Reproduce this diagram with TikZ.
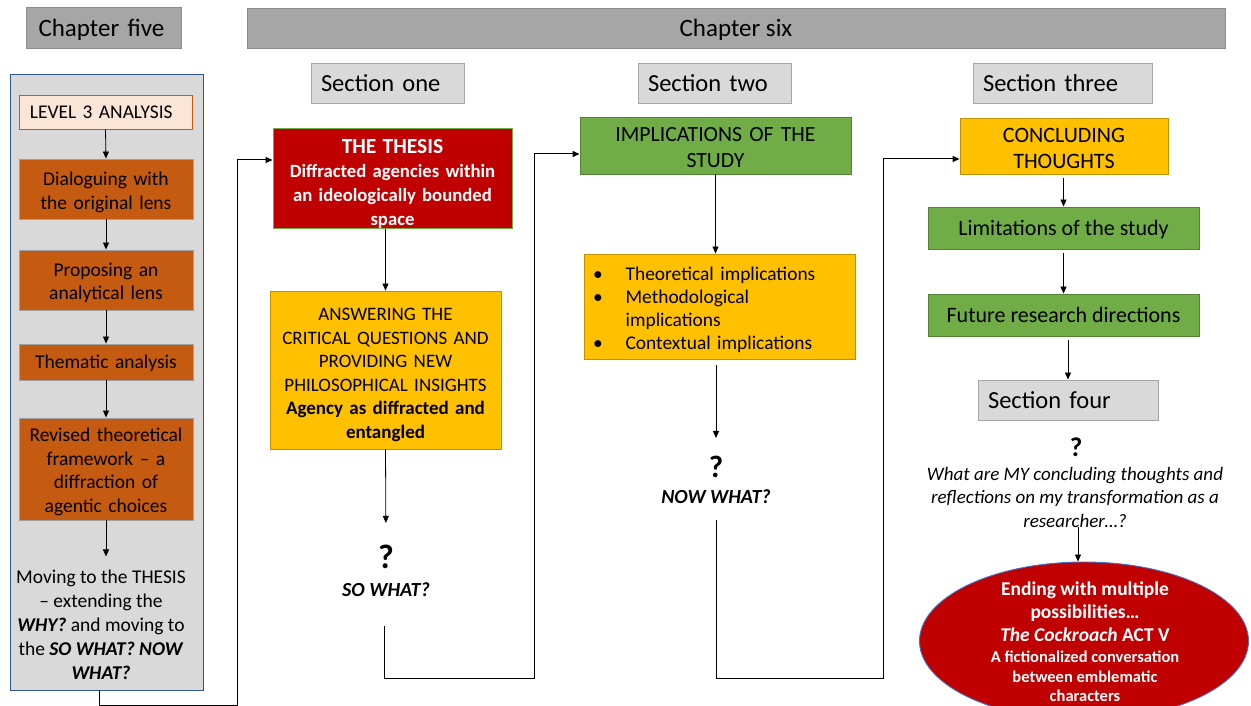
\documentclass[tikz,border=0pt]{standalone}
\usepackage{fontspec}
\setmainfont{Carlito}
\usetikzlibrary{arrows.meta,shapes.geometric}
\definecolor{chap}{HTML}{A6A6A6}
\definecolor{chapb}{HTML}{8C8C8C}
\definecolor{sec}{HTML}{D9D9D9}
\definecolor{secb}{HTML}{A6A6A6}
\definecolor{panelb}{HTML}{2F5597}
\definecolor{peach}{HTML}{FBE5D6}
\definecolor{rust}{HTML}{C55A11}
\definecolor{rustb}{HTML}{A0A0A0}
\definecolor{darkred}{HTML}{C00000}
\definecolor{gold}{HTML}{FFC000}
\definecolor{goldb}{HTML}{BF9000}
\definecolor{leaf}{HTML}{70AD47}
\definecolor{leafb}{HTML}{548235}
\definecolor{blueb}{HTML}{4472C4}
\newcommand\tup[1]{\rule{0pt}{#1}}
\begin{document}
\begin{tikzpicture}[x=1pt,y=-1pt,
  box/.style={draw, line width=0.9pt, align=center, inner sep=0pt, anchor=center},
  chapbox/.style={box, fill=chap, draw=chapb, font=\fontsize{25}{28}\selectfont, text depth=-7pt},
  secbox/.style={box, fill=sec, draw=secb, font=\fontsize{24.5}{28}\selectfont, align=left, inner xsep=10pt, text depth=-6pt},
  rustbox/.style={box, fill=rust, draw=rustb, font=\fontsize{19.5}{23.5}\selectfont, minimum width=174, text width=168},
  goldbox/.style={box, fill=gold, draw=goldb},
  leafbox/.style={box, fill=leaf, draw=leafb},
  txt/.style={align=center, inner sep=0pt},
  qmark/.style={inner sep=0pt, font=\bfseries\fontsize{34}{36}\selectfont},
  qlbl/.style={inner sep=0pt, font=\bfseries\itshape\fontsize{20}{24}\selectfont},
  arr/.style={-{Triangle[length=7pt,width=6pt]}, line width=0.8pt},
  flow/.style={-{Triangle[length=7pt,width=6pt]}, line width=1pt}]
\useasboundingbox (0,0) rectangle (1251,706);
\fill[white] (0,0) rectangle (1251,706);
\clip (0,0) rectangle (1251,706);

% headers
\node[chapbox, minimum width=155, minimum height=41, align=left, inner xsep=12pt, text width=131] (ch5) at (104,28) {Chapter five};
\node[chapbox, minimum width=978, minimum height=40] (ch6) at (736,28) {Chapter six};
\node[secbox, minimum height=40, text width=133] (s1) at (387.5,83) {Section one};
\node[secbox, minimum height=40, text width=133] (s2) at (714.5,83) {Section two};
\node[secbox, minimum height=40, text width=159] (s3) at (1062.5,83) {Section three};

% left panel
\node[box, fill=sec, draw=panelb, minimum width=193, minimum height=616] (panel) at (106.5,382) {};
\node[box, fill=peach, draw=rust, minimum width=173, minimum height=34, align=left, inner xsep=11pt, text width=151, text depth=-8pt, font=\fontsize{19.4}{22}\selectfont] (l3) at (105.5,112) {LEVEL 3 ANALYSIS};
\node[rustbox, minimum height=60] (dia) at (106,189) {\tup{1.05em}Dialoguing with\\the original lens};
\node[rustbox, minimum height=60] (pro) at (106,280) {\tup{1em}Proposing an\\analytical lens};
\node[rustbox, minimum height=36, text depth=-1.5pt] (the) at (106,362) {Thematic analysis};
\node[rustbox, minimum height=102] (rev) at (106,469) {\tup{0.98em}Revised theoretical\\framework – a\\diffraction of\\agentic choices};
\node[txt, font=\fontsize{19.5}{24}\selectfont] (mov) at (101,625) {Moving to the THESIS\\– extending the\\\textbf{\textit{WHY?}} and moving to\\the \textbf{\textit{SO WHAT? NOW}}\\\textbf{\textit{WHAT?}}};
\draw[arr] (l3.south) -- (dia.north);
\draw[arr] (dia.south) -- (pro.north);
\draw[arr] (pro.south) -- (the.north);
\draw[arr] (the.south) -- (rev.north);
\draw[arr] (rev.south) -- ++(0,36) coordinate (revend);

% section one
\node[box, fill=darkred, draw=leaf, text=white, font=\bfseries\fontsize{18.7}{24}\selectfont, minimum width=239, minimum height=97, text width=236] (thesis) at (392.5,178.5) {{\fontsize{21.5}{24}\selectfont\tup{1.2em}THE THESIS}\\Diffracted agencies within\\an ideologically bounded\\space};
\node[goldbox, font=\fontsize{19}{23.6}\selectfont, minimum width=231, minimum height=158, text width=227] (ans) at (385.5,370) {\tup{1.17em}ANSWERING THE\\CRITICAL QUESTIONS AND\\PROVIDING NEW\\PHILOSOPHICAL INSIGHTS\\\textbf{Agency as diffracted and}\\\textbf{entangled}};
\node[qmark] (qa1) at (386,557) {?};
\node[qlbl] (qb1) at (386,590) {SO WHAT?};
\draw[arr] (thesis.south -| ans.north) -- (ans.north);
\draw[arr, shorten >=22pt] (ans.south) -- (qa1.north);

% section two
\node[leafbox, font=\fontsize{21.7}{26}\selectfont, minimum width=271, minimum height=57, text width=266] (impl) at (715.5,145.5) {\tup{0.83em}IMPLICATIONS OF THE\\STUDY};
\node[goldbox, minimum width=271, minimum height=105, align=left, text width=253, inner xsep=9pt, font=\fontsize{19.4}{23.3}\selectfont] (bul) at (719.5,306.5) {\begin{tabular}[t]{@{}l@{\hspace{23pt}}l@{}}\tup{24pt}•&Theoretical implications\\•&Methodological\\&implications\\•&Contextual implications\end{tabular}};
\node[qmark, font=\bfseries\fontsize{31}{33}\selectfont] (qa2) at (716,467) {?};
\node[qlbl] (qb2) at (716,497) {NOW WHAT?};
\draw[arr] (impl.south) -- (bul.north -| impl.south);
\draw[arr, shorten <=6pt, shorten >=18pt] (bul.south -| qa2.north) -- (qa2.north);

% section three
\node[goldbox, font=\fontsize{22}{26}\selectfont, minimum width=208, minimum height=56, text width=204] (conc) at (1064,146) {\tup{0.83em}CONCLUDING\\THOUGHTS};
\node[leafbox, font=\fontsize{22}{24}\selectfont, minimum width=271, minimum height=42, text depth=-1pt] (lim) at (1063.5,228) {Limitations of the study};
\node[leafbox, font=\fontsize{22}{24}\selectfont, minimum width=271, minimum height=42, text depth=-4pt] (fut) at (1063.5,315) {Future research directions};
\node[secbox, minimum height=40, text width=160, text depth=-3pt] (s4) at (1068,400) {Section four};
\node[qmark, font=\bfseries\fontsize{27}{29}\selectfont] (qa3) at (1076,447) {?};
\node[txt, font=\itshape\fontsize{19}{23.5}\selectfont] (qt3) at (1075,497) {What are MY concluding thoughts and\\reflections on my transformation as a\\researcher…?};
\node[ellipse, draw=blueb, fill=darkred, line width=0.9pt, minimum width=329, minimum height=158, inner sep=0pt] (ell) at (1084,641) {};
\node[txt, text=white, font=\bfseries\fontsize{19.5}{23}\selectfont] (ellt) at (1085,642) {Ending with multiple\\possibilities…\\\textit{The Cockroach} ACT V\\[-2pt]{\fontsize{16.5}{19}\selectfont A fictionalized conversation}\\[-3pt]{\fontsize{16.5}{19}\selectfont between emblematic}\\[-4pt]{\fontsize{16.5}{19}\selectfont characters}};
\draw[arr, shorten <=4pt] (conc.south -| lim.north) -- (lim.north);
\draw[arr, shorten <=4pt] (lim.south) -- (fut.north);
\draw[arr, shorten <=4pt] (fut.south -| s4.north) -- (s4.north);
\draw[arr] (qt3.south -| 1078,0) -- (ell.north -| 1078,0);

% elbow connectors
\coordinate (k1s) at (99,690);
\coordinate (k1c) at (237,705);
\coordinate (k1y) at (0,160);
\draw[flow] (k1s) |- (k1c) |- (thesis.west |- k1y);
\coordinate (k2s) at (384,626);
\coordinate (k2c) at (534,678);
\coordinate (k2y) at (0,154);
\draw[flow] (k2s) |- (k2c) |- (impl.west |- k2y);
\coordinate (k3s) at (716,520);
\coordinate (k3c) at (883,678);
\coordinate (k3y) at (0,159);
\draw[flow] (k3s) |- (k3c) |- (conc.west |- k3y);
\end{tikzpicture}
\end{document}
